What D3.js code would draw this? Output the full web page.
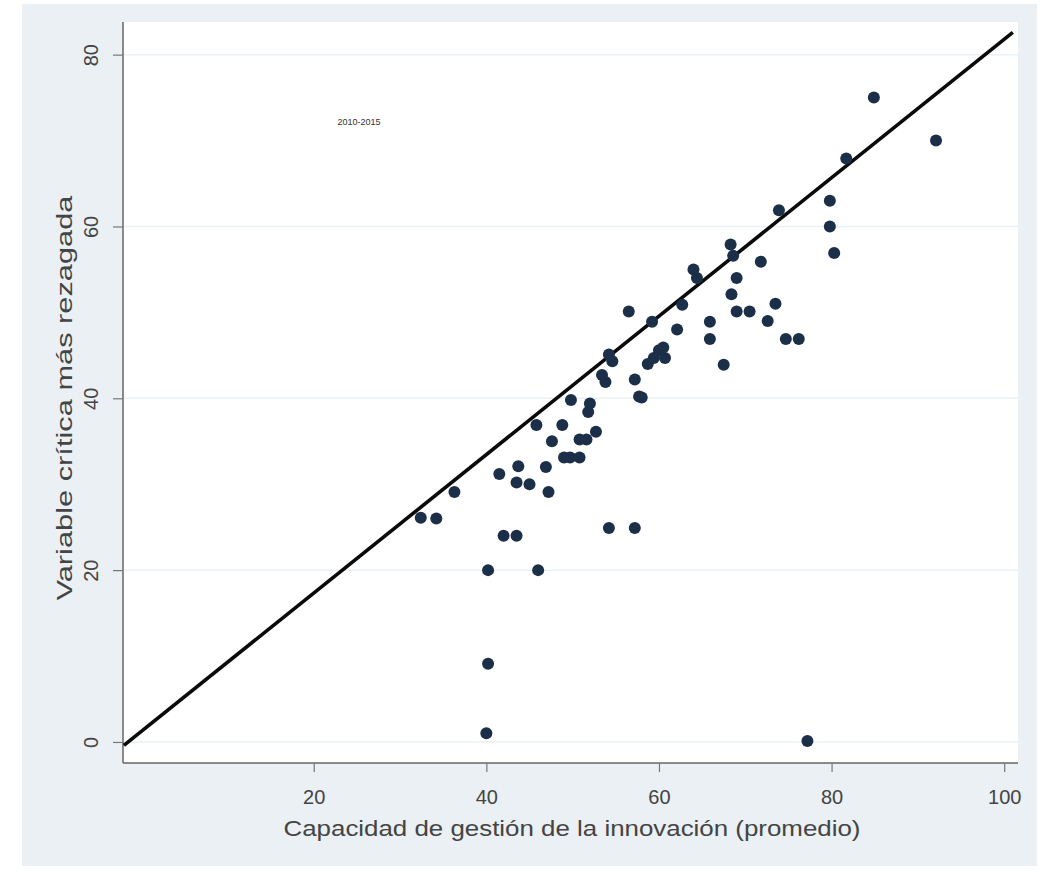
<!DOCTYPE html>
<html>
<head>
<meta charset="utf-8">
<script src="https://cdn.jsdelivr.net/npm/d3@7"></script>
<style>
  html, body { margin: 0; padding: 0; background: #ffffff; }
  svg { display: block; }
  text { font-family: "Liberation Sans", Arial, sans-serif; }
</style>
</head>
<body>
<div id="chart"></div>
<script>
// ---- data ----
const capacidad = [32.4, 34.2, 36.3, 40.0, 40.2, 40.2, 41.5, 42.0, 43.5, 43.5,
  43.7, 45.0, 45.8, 46.0, 46.9, 47.2, 47.6, 48.8, 49.0, 49.7,
  49.8, 50.8, 50.8, 51.6, 51.8, 52.0, 52.7, 53.4, 53.8, 54.2,
  54.2, 54.6, 56.5, 57.2, 57.2, 57.7, 58.0, 58.7, 59.2, 59.4,
  60.0, 60.5, 60.7, 62.1, 62.7, 64.0, 64.4, 65.9, 65.9, 67.5,
  68.3, 68.6, 68.4, 69.0, 69.0, 70.5, 71.8, 72.6, 73.5, 73.9,
  74.7, 76.2, 77.2, 79.8, 79.8, 80.3, 81.7, 84.9, 92.1];
const rezagada = [26.1, 26.0, 29.1, 1.0, 9.1, 20.0, 31.2, 24.0, 24.0, 30.2,
  32.1, 30.0, 36.9, 20.0, 32.0, 29.1, 35.0, 36.9, 33.1, 33.1,
  39.8, 33.1, 35.2, 35.2, 38.4, 39.4, 36.1, 42.7, 41.9, 24.9,
  45.1, 44.3, 50.1, 24.9, 42.2, 40.2, 40.1, 44.0, 48.9, 44.7,
  45.6, 45.9, 44.7, 48.0, 50.9, 55.0, 54.0, 48.9, 46.9, 43.9,
  57.9, 56.6, 52.1, 54.0, 50.1, 50.1, 55.9, 49.0, 51.0, 61.9,
  46.9, 46.9, 0.1, 63.0, 60.0, 56.9, 67.9, 75.0, 70.0];
const lineX = [-2, 101];
const lineY = [-0.4, 82.6];
const xTicks = [20, 40, 60, 80, 100];
const yTicks = [0, 20, 40, 60, 80];
const xTitle = "Capacidad de gestión de la innovación (promedio)";
const yTitle = "Variable crítica más rezagada";
const noteLabel = "2010-2015";

// ---- layout ----
const W = 1041, H = 872;
const plot = { left: 123, right: 1018, top: 22, bottom: 763 };

const svg = d3.select("#chart").append("svg")
  .attr("width", W).attr("height", H);

// outer background (graph region)
svg.append("rect").attr("x", 22).attr("y", 4).attr("width", W - 26).attr("height", H - 10)
  .attr("fill", "#eaf0f3");
// plot region
svg.append("rect").attr("x", plot.left).attr("y", plot.top)
  .attr("width", plot.right - plot.left).attr("height", plot.bottom - plot.top)
  .attr("fill", "#ffffff");

const x = d3.scaleLinear().domain([-2.1, 101.6]).range([plot.left, plot.right]);
const y = d3.scaleLinear().domain([-2.45, 83.8]).range([plot.bottom, plot.top]);

// gridlines
svg.append("g").selectAll("line").data(yTicks).join("line")
  .attr("x1", plot.left).attr("x2", plot.right)
  .attr("y1", d => y(d)).attr("y2", d => y(d))
  .attr("stroke", "#eaf0f3").attr("stroke-width", 1.5);

// axes
const xAxis = d3.axisBottom(x).tickValues(xTicks).tickSize(9).tickPadding(18).tickSizeOuter(0);
const gx = svg.append("g").attr("transform", `translate(0,${plot.bottom})`).call(xAxis);
gx.select(".domain").attr("stroke", "#666").attr("stroke-width", 1.5)
  .attr("d", `M${plot.left},0H${plot.right}`);
gx.selectAll(".tick line").attr("stroke", "#777").attr("stroke-width", 1.2);
gx.selectAll(".tick text").attr("fill", "#444").attr("font-size", 20);

const yAxis = d3.axisLeft(y).tickValues(yTicks).tickSize(10).tickPadding(0).tickSizeOuter(0);
const gy = svg.append("g").attr("transform", `translate(${plot.left},0)`).call(yAxis);
gy.select(".domain").attr("stroke", "#666").attr("stroke-width", 1.5)
  .attr("d", `M0,${plot.top}V${plot.bottom}`);
gy.selectAll(".tick line").attr("stroke", "#777").attr("stroke-width", 1.2);
gy.selectAll(".tick text").attr("fill", "#444").attr("font-size", 20)
  .attr("x", null).attr("dy", null)
  .attr("text-anchor", "middle")
  .attr("transform", "translate(-32,0) rotate(-90)")
  .attr("y", 0).attr("dominant-baseline", "central");

// fitted line
svg.append("line")
  .attr("x1", x(lineX[0])).attr("y1", y(lineY[0]))
  .attr("x2", x(lineX[1])).attr("y2", y(lineY[1]))
  .attr("stroke", "#0a0a0a").attr("stroke-width", 3.6);

// points
svg.append("g").selectAll("circle").data(capacidad.map((c, i) => [c, rezagada[i]])).join("circle")
  .attr("cx", d => x(d[0])).attr("cy", d => y(d[1])).attr("r", 6)
  .attr("fill", "#1c2f48");

// note label
svg.append("text").attr("x", 359).attr("y", 125).attr("text-anchor", "middle")
  .attr("font-size", 9).attr("fill", "#333").text(noteLabel);

// axis titles
svg.append("text").attr("x", 572).attr("y", 836).attr("text-anchor", "middle")
  .attr("font-size", 22).attr("fill", "#444")
  .attr("textLength", 577).attr("lengthAdjust", "spacingAndGlyphs")
  .text(xTitle);

svg.append("text").attr("transform", `translate(72,${398}) rotate(-90)`)
  .attr("text-anchor", "middle").attr("font-size", 22).attr("fill", "#444")
  .attr("textLength", 405).attr("lengthAdjust", "spacingAndGlyphs")
  .text(yTitle);
</script>
</body>
</html>
